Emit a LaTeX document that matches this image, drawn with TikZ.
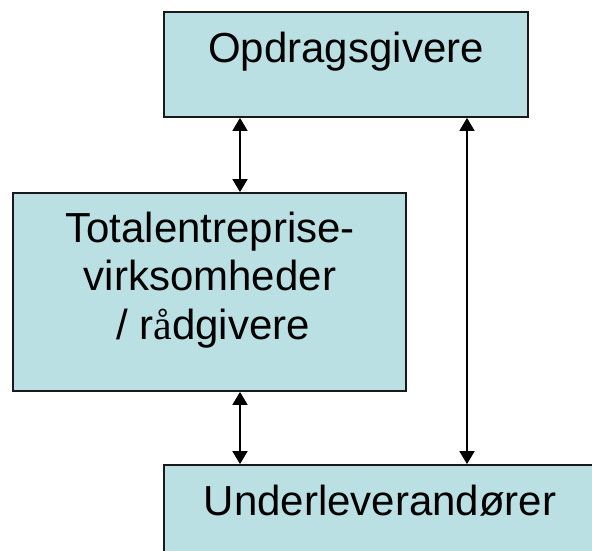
\documentclass[tikz,border=0pt]{standalone}
\usepackage{fontspec}
\setmainfont{Liberation Sans}
\newfontfamily\serifrm{Liberation Serif}
\usetikzlibrary{arrows.meta}
\definecolor{boxfill}{RGB}{187,224,227}
\definecolor{boxline}{RGB}{25,25,25}
\tikzset{
  box/.style={draw=boxline, fill=boxfill, line width=1.8pt, inner sep=0pt},
  txt/.style={anchor=base, inner sep=0pt, font=\fontsize{42}{48}\selectfont},
  conn/.style={line width=1.8pt, {Triangle[length=13pt,width=15pt]}-{Triangle[length=13pt,width=15pt]}}
}
\begin{document}
\begin{tikzpicture}[x=1pt,y=-1pt]
\useasboundingbox (0,0) rectangle (592,550);
\clip (0,0) rectangle (592,550);
\fill[white] (0,0) rectangle (592,550);
% boxes
\node[box, minimum width=364pt, minimum height=105pt] (opd) at (346,64.5) {};
\node[box, minimum width=393pt, minimum height=198pt] (mid) at (209.5,292) {};
\node[box, minimum width=456pt, minimum height=135pt] (und) at (392,532.5) {};
% texts
\node[txt] (opdt) at (346,62) {Opdragsgivere};
\node[txt] (midt1) at (210,242) {Totalentreprise-};
\node[txt] (midt2) at (210,290) {virksomheder};
\node[txt] (midt3) at (213,339) {/ r{\serifrm å}dgivere};
\node[txt] (undt) at (380,515) {Underleverandører};
% connectors
\coordinate (xl) at (240,0);
\coordinate (xr) at (467,0);
\draw[conn] (opd.south -| xl) -- (mid.north -| xl);
\draw[conn] (mid.south -| xl) -- (und.north -| xl);
\draw[conn] (opd.south -| xr) -- (und.north -| xr);
\end{tikzpicture}
\end{document}
